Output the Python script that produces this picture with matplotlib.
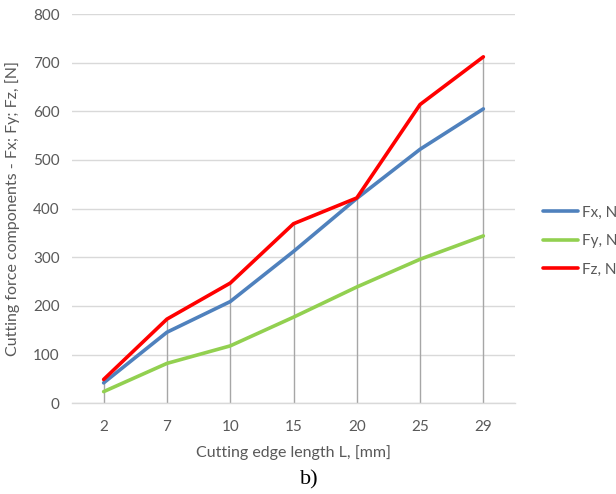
import matplotlib
matplotlib.use("Agg")
import matplotlib.pyplot as plt
import numpy as np

categories = ["2", "7", "10", "15", "20", "25", "29"]
fx = [42, 146, 209, 312, 421, 522, 605]
fy = [24, 82, 118, 177, 239, 296, 344]
fz = [49, 173, 247, 369, 422, 614, 712]
series_names = ["Fx, N", "Fy, N", "Fz, N"]
colors = ["#4F81BD", "#92D050", "#FF0000"]

plt.rcParams['font.family'] = ['Lato', 'DejaVu Sans']
fig = plt.figure(figsize=(6.16, 4.94), dpi=100)
ax = fig.add_axes([72/616, 1-403.3/494, (515-72)/616, (403.3-14)/494])

x = np.arange(len(categories))
# drop lines
top = np.max(np.vstack([fx, fy, fz]), axis=0)
ax.vlines(x, 0, top, colors="#A6A6A6", linewidth=1.0, zorder=2)

for vals, name, c in zip([fx, fy, fz], series_names, colors):
    ax.plot(x, vals, color=c, linewidth=2.6, label=name, zorder=3,
            solid_capstyle='round', solid_joinstyle='round')

ax.set_xlim(-0.5, len(categories) - 0.5)
ax.set_ylim(0, 800)
ax.set_yticks(range(0, 801, 100))
ax.set_xticks(x)
ax.set_xticklabels(categories)
ax.yaxis.grid(True, color="#D9D9D9", linewidth=1.0, zorder=0)
ax.set_axisbelow(True)
for s in ["top", "right", "left"]:
    ax.spines[s].set_visible(False)
ax.spines["bottom"].set_color("#D9D9D9")
ax.spines["bottom"].set_linewidth(1.0)
ax.tick_params(axis="both", length=0, colors="#595959", labelsize=11)
ax.tick_params(axis="x", pad=12)
ax.tick_params(axis="y", pad=9)

ax.set_xlabel("Cutting edge length L, [mm]", color="#595959", fontsize=11.5, labelpad=8)
ax.set_ylabel("Cutting force components - Fx; Fy; Fz, [N]", color="#595959", fontsize=11.5, labelpad=9)

leg = fig.legend(loc="upper left", bbox_to_anchor=(529/616, 1-192/494), frameon=False,
                 fontsize=11, labelcolor="#595959", handlelength=2.3, handletextpad=0.25,
                 labelspacing=0.95)

fig.text(309/616, 1-480/494, "b)", family="Liberation Serif", fontsize=16,
         color="black", ha="center", va="center")

fig.savefig("out.png", dpi=100)
